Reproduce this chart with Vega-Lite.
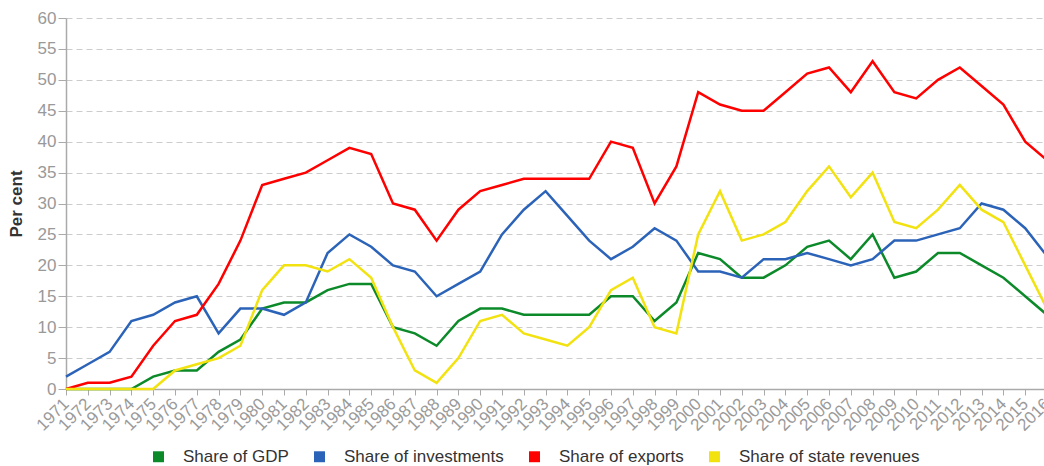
{
  "$schema": "https://vega.github.io/schema/vega-lite/v6.json",
  "autosize": "none",
  "width": 981,
  "height": 371,
  "padding": {"left": 66, "top": 18, "right": 0, "bottom": 77},
  "background": "white",
  "config": {
    "font": "Liberation Sans",
    "view": {"stroke": null}
  },
  "data": {
    "values": [
      {"year":1971,"series":"Share of GDP","value":0},{"year":1972,"series":"Share of GDP","value":0},{"year":1973,"series":"Share of GDP","value":0},{"year":1974,"series":"Share of GDP","value":0},{"year":1975,"series":"Share of GDP","value":2},{"year":1976,"series":"Share of GDP","value":3},{"year":1977,"series":"Share of GDP","value":3},{"year":1978,"series":"Share of GDP","value":6},{"year":1979,"series":"Share of GDP","value":8},{"year":1980,"series":"Share of GDP","value":13},{"year":1981,"series":"Share of GDP","value":14},{"year":1982,"series":"Share of GDP","value":14},{"year":1983,"series":"Share of GDP","value":16},{"year":1984,"series":"Share of GDP","value":17},{"year":1985,"series":"Share of GDP","value":17},{"year":1986,"series":"Share of GDP","value":10},{"year":1987,"series":"Share of GDP","value":9},{"year":1988,"series":"Share of GDP","value":7},{"year":1989,"series":"Share of GDP","value":11},{"year":1990,"series":"Share of GDP","value":13},{"year":1991,"series":"Share of GDP","value":13},{"year":1992,"series":"Share of GDP","value":12},{"year":1993,"series":"Share of GDP","value":12},{"year":1994,"series":"Share of GDP","value":12},{"year":1995,"series":"Share of GDP","value":12},{"year":1996,"series":"Share of GDP","value":15},{"year":1997,"series":"Share of GDP","value":15},{"year":1998,"series":"Share of GDP","value":11},{"year":1999,"series":"Share of GDP","value":14},{"year":2000,"series":"Share of GDP","value":22},{"year":2001,"series":"Share of GDP","value":21},{"year":2002,"series":"Share of GDP","value":18},{"year":2003,"series":"Share of GDP","value":18},{"year":2004,"series":"Share of GDP","value":20},{"year":2005,"series":"Share of GDP","value":23},{"year":2006,"series":"Share of GDP","value":24},{"year":2007,"series":"Share of GDP","value":21},{"year":2008,"series":"Share of GDP","value":25},{"year":2009,"series":"Share of GDP","value":18},{"year":2010,"series":"Share of GDP","value":19},{"year":2011,"series":"Share of GDP","value":22},{"year":2012,"series":"Share of GDP","value":22},{"year":2013,"series":"Share of GDP","value":20},{"year":2014,"series":"Share of GDP","value":18},{"year":2015,"series":"Share of GDP","value":15},{"year":2016,"series":"Share of GDP","value":12},
      {"year":1971,"series":"Share of investments","value":2},{"year":1972,"series":"Share of investments","value":4},{"year":1973,"series":"Share of investments","value":6},{"year":1974,"series":"Share of investments","value":11},{"year":1975,"series":"Share of investments","value":12},{"year":1976,"series":"Share of investments","value":14},{"year":1977,"series":"Share of investments","value":15},{"year":1978,"series":"Share of investments","value":9},{"year":1979,"series":"Share of investments","value":13},{"year":1980,"series":"Share of investments","value":13},{"year":1981,"series":"Share of investments","value":12},{"year":1982,"series":"Share of investments","value":14},{"year":1983,"series":"Share of investments","value":22},{"year":1984,"series":"Share of investments","value":25},{"year":1985,"series":"Share of investments","value":23},{"year":1986,"series":"Share of investments","value":20},{"year":1987,"series":"Share of investments","value":19},{"year":1988,"series":"Share of investments","value":15},{"year":1989,"series":"Share of investments","value":17},{"year":1990,"series":"Share of investments","value":19},{"year":1991,"series":"Share of investments","value":25},{"year":1992,"series":"Share of investments","value":29},{"year":1993,"series":"Share of investments","value":32},{"year":1994,"series":"Share of investments","value":28},{"year":1995,"series":"Share of investments","value":24},{"year":1996,"series":"Share of investments","value":21},{"year":1997,"series":"Share of investments","value":23},{"year":1998,"series":"Share of investments","value":26},{"year":1999,"series":"Share of investments","value":24},{"year":2000,"series":"Share of investments","value":19},{"year":2001,"series":"Share of investments","value":19},{"year":2002,"series":"Share of investments","value":18},{"year":2003,"series":"Share of investments","value":21},{"year":2004,"series":"Share of investments","value":21},{"year":2005,"series":"Share of investments","value":22},{"year":2006,"series":"Share of investments","value":21},{"year":2007,"series":"Share of investments","value":20},{"year":2008,"series":"Share of investments","value":21},{"year":2009,"series":"Share of investments","value":24},{"year":2010,"series":"Share of investments","value":24},{"year":2011,"series":"Share of investments","value":25},{"year":2012,"series":"Share of investments","value":26},{"year":2013,"series":"Share of investments","value":30},{"year":2014,"series":"Share of investments","value":29},{"year":2015,"series":"Share of investments","value":26},{"year":2016,"series":"Share of investments","value":21.5},
      {"year":1971,"series":"Share of exports","value":0},{"year":1972,"series":"Share of exports","value":1},{"year":1973,"series":"Share of exports","value":1},{"year":1974,"series":"Share of exports","value":2},{"year":1975,"series":"Share of exports","value":7},{"year":1976,"series":"Share of exports","value":11},{"year":1977,"series":"Share of exports","value":12},{"year":1978,"series":"Share of exports","value":17},{"year":1979,"series":"Share of exports","value":24},{"year":1980,"series":"Share of exports","value":33},{"year":1981,"series":"Share of exports","value":34},{"year":1982,"series":"Share of exports","value":35},{"year":1983,"series":"Share of exports","value":37},{"year":1984,"series":"Share of exports","value":39},{"year":1985,"series":"Share of exports","value":38},{"year":1986,"series":"Share of exports","value":30},{"year":1987,"series":"Share of exports","value":29},{"year":1988,"series":"Share of exports","value":24},{"year":1989,"series":"Share of exports","value":29},{"year":1990,"series":"Share of exports","value":32},{"year":1991,"series":"Share of exports","value":33},{"year":1992,"series":"Share of exports","value":34},{"year":1993,"series":"Share of exports","value":34},{"year":1994,"series":"Share of exports","value":34},{"year":1995,"series":"Share of exports","value":34},{"year":1996,"series":"Share of exports","value":40},{"year":1997,"series":"Share of exports","value":39},{"year":1998,"series":"Share of exports","value":30},{"year":1999,"series":"Share of exports","value":36},{"year":2000,"series":"Share of exports","value":48},{"year":2001,"series":"Share of exports","value":46},{"year":2002,"series":"Share of exports","value":45},{"year":2003,"series":"Share of exports","value":45},{"year":2004,"series":"Share of exports","value":48},{"year":2005,"series":"Share of exports","value":51},{"year":2006,"series":"Share of exports","value":52},{"year":2007,"series":"Share of exports","value":48},{"year":2008,"series":"Share of exports","value":53},{"year":2009,"series":"Share of exports","value":48},{"year":2010,"series":"Share of exports","value":47},{"year":2011,"series":"Share of exports","value":50},{"year":2012,"series":"Share of exports","value":52},{"year":2013,"series":"Share of exports","value":49},{"year":2014,"series":"Share of exports","value":46},{"year":2015,"series":"Share of exports","value":40},{"year":2016,"series":"Share of exports","value":37},
      {"year":1971,"series":"Share of state revenues","value":0},{"year":1972,"series":"Share of state revenues","value":0},{"year":1973,"series":"Share of state revenues","value":0},{"year":1974,"series":"Share of state revenues","value":0},{"year":1975,"series":"Share of state revenues","value":0},{"year":1976,"series":"Share of state revenues","value":3},{"year":1977,"series":"Share of state revenues","value":4},{"year":1978,"series":"Share of state revenues","value":5},{"year":1979,"series":"Share of state revenues","value":7},{"year":1980,"series":"Share of state revenues","value":16},{"year":1981,"series":"Share of state revenues","value":20},{"year":1982,"series":"Share of state revenues","value":20},{"year":1983,"series":"Share of state revenues","value":19},{"year":1984,"series":"Share of state revenues","value":21},{"year":1985,"series":"Share of state revenues","value":18},{"year":1986,"series":"Share of state revenues","value":10},{"year":1987,"series":"Share of state revenues","value":3},{"year":1988,"series":"Share of state revenues","value":1},{"year":1989,"series":"Share of state revenues","value":5},{"year":1990,"series":"Share of state revenues","value":11},{"year":1991,"series":"Share of state revenues","value":12},{"year":1992,"series":"Share of state revenues","value":9},{"year":1993,"series":"Share of state revenues","value":8},{"year":1994,"series":"Share of state revenues","value":7},{"year":1995,"series":"Share of state revenues","value":10},{"year":1996,"series":"Share of state revenues","value":16},{"year":1997,"series":"Share of state revenues","value":18},{"year":1998,"series":"Share of state revenues","value":10},{"year":1999,"series":"Share of state revenues","value":9},{"year":2000,"series":"Share of state revenues","value":25},{"year":2001,"series":"Share of state revenues","value":32},{"year":2002,"series":"Share of state revenues","value":24},{"year":2003,"series":"Share of state revenues","value":25},{"year":2004,"series":"Share of state revenues","value":27},{"year":2005,"series":"Share of state revenues","value":32},{"year":2006,"series":"Share of state revenues","value":36},{"year":2007,"series":"Share of state revenues","value":31},{"year":2008,"series":"Share of state revenues","value":35},{"year":2009,"series":"Share of state revenues","value":27},{"year":2010,"series":"Share of state revenues","value":26},{"year":2011,"series":"Share of state revenues","value":29},{"year":2012,"series":"Share of state revenues","value":33},{"year":2013,"series":"Share of state revenues","value":29},{"year":2014,"series":"Share of state revenues","value":27},{"year":2015,"series":"Share of state revenues","value":20},{"year":2016,"series":"Share of state revenues","value":13}
    ]
  },
  "mark": {"type": "line", "strokeWidth": 2.5, "clip": false},
  "encoding": {
    "x": {
      "field": "year",
      "type": "ordinal",
      "scale": {"type": "point", "padding": 0},
      "axis": {
        "title": null,
        "labelAngle": -45,
        "labelAlign": "right",
        "labelBaseline": "middle",
        "labelFontSize": 17,
        "labelColor": "#9a9a9a",
        "labelPadding": 6,
        "labelOverlap": false,
        "domainColor": "#aaaaaa",
        "domainWidth": 1.5,
        "tickColor": "#aaaaaa",
        "tickSize": 6,
        "grid": false
      }
    },
    "y": {
      "field": "value",
      "type": "quantitative",
      "scale": {"domain": [0, 60], "nice": false},
      "axis": {
        "title": "Per cent",
        "titleFontSize": 17,
        "titleFontWeight": "bold",
        "titleColor": "#333333",
        "titlePadding": 12,
        "values": [0,5,10,15,20,25,30,35,40,45,50,55,60],
        "labelFontSize": 17,
        "labelColor": "#999999",
        "labelPadding": 2,
        "domainColor": "#aaaaaa",
        "domainWidth": 1.5,
        "tickColor": "#aaaaaa",
        "tickSize": 8,
        "grid": true,
        "gridColor": "#cccccc",
        "gridDash": [6, 4],
        "gridWidth": 1
      }
    },
    "color": {
      "field": "series",
      "type": "nominal",
      "sort": null,
      "scale": {
        "domain": ["Share of GDP", "Share of investments", "Share of exports", "Share of state revenues"],
        "range": ["#0c8a2a", "#2b63b8", "#ff0000", "#f2e210"]
      },
      "legend": {
        "title": null,
        "orient": "none",
        "legendX": 84,
        "legendY": 430,
        "direction": "horizontal",
        "columns": 4,
        "columnPadding": 22,
        "symbolType": "square",
        "symbolSize": 120,
        "symbolStrokeWidth": 0,
        "symbolOpacity": 1,
        "labelFontSize": 17,
        "labelColor": "#333333",
        "labelOffset": 16,
        "labelLimit": 400,
        "encode": {
          "symbols": {
            "update": {
              "fill": {"scale": "color", "field": "value"},
              "fillOpacity": {"value": 1},
              "strokeWidth": {"value": 0}
            }
          }
        }
      }
    }
  }
}
